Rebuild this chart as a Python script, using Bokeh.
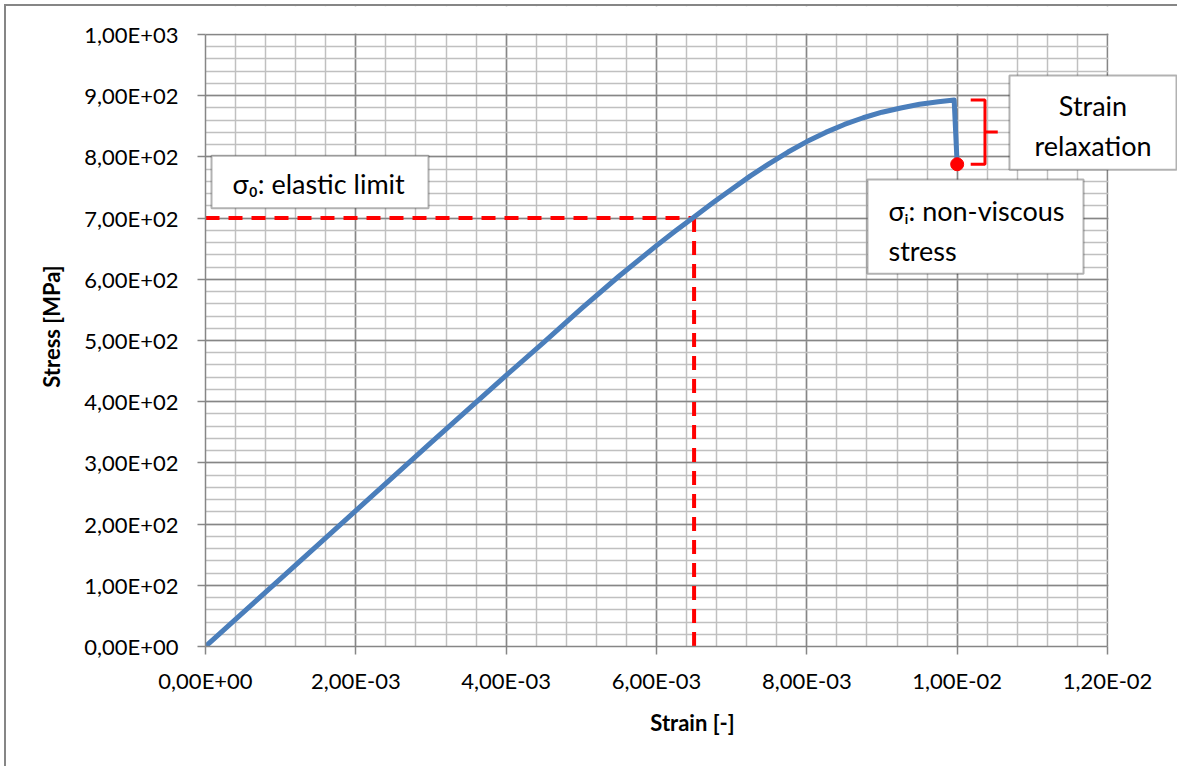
from bokeh.plotting import figure
from bokeh.models import (Range1d, SingleIntervalTicker, CustomJSTickFormatter,
                          BoxAnnotation, Label)
from bokeh.embed import file_html
from bokeh.resources import INLINE

# Stress-strain curve of the tensile test (strain [-], stress [MPa])
strain = [0.0, 0.001, 0.002, 0.003, 0.004, 0.0045, 0.005, 0.0055, 0.006,
          0.00625, 0.0065, 0.00675, 0.007, 0.00725, 0.0075, 0.00775, 0.008,
          0.00825, 0.0085, 0.00875, 0.009, 0.00925, 0.0095, 0.00975, 0.00996,
          0.00998, 0.0100]
stress = [0, 111, 222, 333, 443, 497, 552, 605, 655,
          679, 702, 725, 747, 769, 789, 808, 825,
          840, 853, 864, 873, 880, 886, 890, 893,
          840, 787]

# Elastic limit and non-viscous stress markers
elastic_strain = 0.0065
elastic_stress = 700
relaxed_strain = 0.0100
relaxed_stress = 788
peak_stress = 893

# Axis extents and ticks
x_max, x_step = 0.012, 0.002
y_max, y_step = 1000, 100

FONT = "Lato"
BLUE = "#4a7ebb"
RED = "#ff0000"
MAJOR = "#868686"
MINOR = "#c0c0c0"

# Page layout (pixels): canvas offset, plot-area edges
OX, OY = 6, 6
W, H = 1179 - OX, 768 - OY
AX_L, AX_R, AX_T, AX_B = 205 - OX, 1107 - OX, 34 - OY, 646 - OY
px_x = (AX_R - AX_L) / x_max          # pixels per unit strain
px_y = (AX_B - AX_T) / y_max          # pixels per MPa

p = figure(width=W, height=H, output_backend="svg", toolbar_location=None,
           x_range=Range1d(0, (W - AX_L) / px_x),
           y_range=Range1d(0, AX_B / px_y),
           min_border_left=AX_L, min_border_right=0,
           min_border_top=0, min_border_bottom=H - AX_B,
           background_fill_color="white", border_fill_color="white")
p.outline_line_color = None
p.margin = (OY - 2, 0, 0, OX - 2)
p.styles = {"border-left": f"2px solid {MAJOR}", "border-top": f"2px solid {MAJOR}"}

fmt = CustomJSTickFormatter(code="""
if (tick == 0) return "0,00E+00";
let e = Math.floor(Math.log10(Math.abs(tick)) + 1e-9);
let m = tick / Math.pow(10, e);
let ms = m.toFixed(2);
if (parseFloat(ms) >= 10) { e += 1; ms = (m / 10).toFixed(2); }
const es = (e < 0 ? "-" : "+") + (Math.abs(e) < 10 ? "0" : "") + Math.abs(e);
return ms.replace(".", ",") + "E" + es;
""")

p.xaxis.ticker = SingleIntervalTicker(interval=x_step, num_minor_ticks=5)
p.yaxis.ticker = SingleIntervalTicker(interval=y_step, num_minor_ticks=5)
p.xaxis.bounds = (0, x_max)
p.yaxis.bounds = (0, y_max)
for ax in (p.xaxis[0], p.yaxis[0]):
    ax.formatter = fmt
    ax.axis_line_color = MAJOR
    ax.axis_line_width = 1.5
    ax.major_tick_line_color = MAJOR
    ax.major_tick_line_width = 1.5
    ax.major_tick_in = 0
    ax.major_tick_out = 8
    ax.minor_tick_line_color = None
    ax.major_label_text_font = FONT
    ax.major_label_text_font_size = "22px"
    ax.major_label_text_color = "black"
    ax.axis_label_text_font = FONT
    ax.axis_label_text_font_style = "bold"
    ax.axis_label_text_font_size = "22px"
    ax.axis_label_text_color = "black"

p.xaxis.axis_label = "Strain [-]"
p.yaxis.axis_label = "Stress [MPa]"
p.xaxis.major_label_standoff = 12
p.yaxis.major_label_standoff = 19
p.xaxis.axis_label_standoff = 12
p.yaxis.axis_label_standoff = 16

p.xgrid.bounds = (0, x_max)
p.ygrid.bounds = (0, y_max)
for g in (p.xgrid[0], p.ygrid[0]):
    g.grid_line_color = MAJOR
    g.grid_line_width = 1.5
    g.minor_grid_line_color = MINOR
    g.minor_grid_line_width = 1.5

# Blank out the grid outside the plotted range
p.add_layout(BoxAnnotation(left=x_max + 1 / px_x, fill_color="white", fill_alpha=1,
                           line_color=None, level="underlay"))
p.add_layout(BoxAnnotation(bottom=y_max + 1 / px_y, fill_color="white", fill_alpha=1,
                           line_color=None, level="underlay"))

# Dashed guides to the elastic limit
p.line([0, elastic_strain], [elastic_stress, elastic_stress],
       line_color=RED, line_width=4, line_dash="14 9")
p.line([elastic_strain, elastic_strain], [elastic_stress, 0],
       line_color=RED, line_width=4, line_dash="14 9")

# Measured curve
p.line(strain, stress, line_color=BLUE, line_width=5, line_join="round")

# Relaxation bracket
bx0, bx1, bx2 = 0.01018, 0.01037, 0.01054
p.line([bx0, bx1, bx1, bx0], [peak_stress, peak_stress, relaxed_stress, relaxed_stress],
       line_color=RED, line_width=3)
mid = (peak_stress + relaxed_stress) / 2
p.line([bx1, bx2], [mid, mid], line_color=RED, line_width=3)

p.scatter([relaxed_strain], [relaxed_stress], size=13, color=RED)

# Text boxes
def box(left, right, bottom, top):
    p.add_layout(BoxAnnotation(left=left, right=right, bottom=bottom, top=top,
                               fill_color="white", fill_alpha=1.0,
                               line_color="black", line_width=2, level="overlay"))

def text(x, y, s, align="left"):
    p.add_layout(Label(x=x, y=y, text=s, text_font=FONT, text_font_size="27px",
                       text_color="black", text_align=align, text_baseline="middle",
                       level="overlay"))

box(0.00008, 0.002967, 716, 802)
text(0.00036, 757, "σ₀: elastic limit")

box(0.010696, 0.012918, 779, 933)
text(0.011807, 884, "Strain", "center")
text(0.011807, 819, "relaxation", "center")

box(0.008807, 0.011681, 609, 763)
text(0.009086, 712, "σᵢ: non-viscous")
text(0.009086, 647, "stress")

open("out.html", "w").write(file_html(p, INLINE))
